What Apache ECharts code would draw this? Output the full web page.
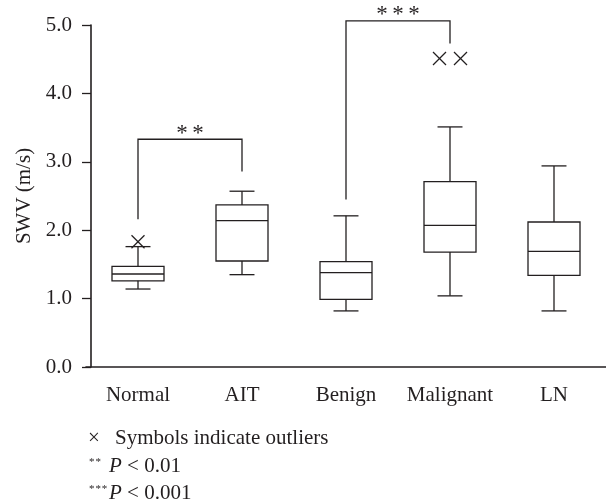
<!DOCTYPE html>
<html>
<head>
<meta charset="utf-8">
<script src="https://cdn.jsdelivr.net/npm/echarts@6/dist/echarts.min.js"></script>
<style>html,body{margin:0;padding:0;background:#fff;}#c{width:606px;height:502px;}</style>
</head>
<body>
<div id="c"></div>
<script>
const categories = ['Normal', 'AIT', 'Benign', 'Malignant', 'LN'];
const boxLow    = [1.14, 1.35, 0.82, 1.04, 0.82];
const boxQ1     = [1.26, 1.55, 0.99, 1.68, 1.34];
const boxMedian = [1.36, 2.14, 1.38, 2.07, 1.69];
const boxQ3     = [1.47, 2.37, 1.54, 2.71, 2.12];
const boxHigh   = [1.76, 2.57, 2.21, 3.51, 2.94];
const outlierCategory = [0, 3, 3];
const outlierValue    = [1.83, 4.51, 4.51];
const bracketFrom    = [0, 2];
const bracketTo      = [1, 3];
const bracketTop     = [3.33, 5.06];
const bracketFromEnd = [2.16, 2.45];
const bracketToEnd   = [2.86, 4.73];
const bracketLabel   = ['**', '***'];
const yMin = 0, yMax = 5, yInterval = 1;
const yTitle = 'SWV (m/s)';
const noteSymbol = '×';
const noteText = 'Symbols indicate outliers';
const noteStars = ['**', '***'];
const noteP = ['< 0.01', '< 0.001'];

const INK = '#231f20';
const FONT = 'Liberation Serif';

const boxData = categories.map((c, i) => [i, boxLow[i], boxQ1[i], boxMedian[i], boxQ3[i], boxHigh[i]]);
const outlierData = outlierCategory.map((c, k) => {
  const same = [];
  outlierCategory.forEach((c2, k2) => { if (c2 === c && outlierValue[k2] === outlierValue[k]) same.push(k2); });
  return [c, outlierValue[k], same.indexOf(k), same.length];
});
const bracketData = bracketFrom.map((f, i) => [f, bracketTo[i], bracketTop[i], bracketFromEnd[i], bracketToEnd[i], i]);

const chart = echarts.init(document.getElementById('c'), null, { renderer: 'canvas' });
const lineStyle = { stroke: INK, lineWidth: 1.3, fill: null };

function pNote(i, top) {
  return [
    { type: 'text', left: 89, top: top + 1,
      style: { text: noteStars[i].split('').join('\u200a'), fill: INK, font: '11px "' + FONT + '"' } },
    { type: 'text', left: 109, top: top,
      style: { text: '{i|P}{n| ' + noteP[i] + '}',
        rich: {
          i: { fontSize: 21, fontFamily: FONT, fontStyle: 'italic', fill: INK, lineHeight: 21 },
          n: { fontSize: 21, fontFamily: FONT, fill: INK, lineHeight: 21 }
        } } }
  ];
}

chart.setOption({
  animation: false,
  backgroundColor: '#fff',
  grid: { left: 86, right: 0, top: 25, bottom: 135, containLabel: false },
  xAxis: {
    type: 'category',
    data: categories,
    boundaryGap: true,
    axisLine: { lineStyle: { color: INK, width: 1.6 } },
    axisTick: { alignWithLabel: true, length: 10, lineStyle: { color: INK, width: 1.3 } },
    axisLabel: { interval: 0, color: INK, fontFamily: FONT, fontSize: 21, margin: 18 },
    splitLine: { show: false }
  },
  yAxis: {
    type: 'value',
    min: yMin, max: yMax, interval: yInterval,
    offset: -5,
    name: yTitle,
    nameLocation: 'middle',
    nameGap: 50,
    nameTextStyle: { color: INK, fontFamily: FONT, fontSize: 21 },
    axisLine: { show: true, lineStyle: { color: INK, width: 1.6 } },
    axisTick: { show: true, length: 9, lineStyle: { color: INK, width: 1.3 } },
    axisLabel: { color: INK, fontFamily: FONT, fontSize: 21, margin: 19, formatter: v => v.toFixed(1) },
    splitLine: { show: false }
  },
  series: [
    {
      type: 'custom',
      name: 'box',
      data: boxData,
      encode: { x: 0, y: [1, 2, 3, 4, 5] },
      renderItem: function (params, api) {
        const i = api.value(0);
        const band = api.size([1, 0])[0];
        const bw = band * 0.5, cw = band * 0.24;
        const pl = api.coord([i, api.value(1)]);
        const p1 = api.coord([i, api.value(2)]);
        const pm = api.coord([i, api.value(3)]);
        const p3 = api.coord([i, api.value(4)]);
        const ph = api.coord([i, api.value(5)]);
        const cx = pl[0];
        return {
          type: 'group',
          children: [
            { type: 'rect', shape: { x: cx - bw / 2, y: p3[1], width: bw, height: p1[1] - p3[1] }, style: lineStyle },
            { type: 'line', shape: { x1: cx - bw / 2, y1: pm[1], x2: cx + bw / 2, y2: pm[1] }, style: lineStyle },
            { type: 'line', shape: { x1: cx, y1: p3[1], x2: cx, y2: ph[1] }, style: lineStyle },
            { type: 'line', shape: { x1: cx - cw / 2, y1: ph[1], x2: cx + cw / 2, y2: ph[1] }, style: lineStyle },
            { type: 'line', shape: { x1: cx, y1: p1[1], x2: cx, y2: pl[1] }, style: lineStyle },
            { type: 'line', shape: { x1: cx - cw / 2, y1: pl[1], x2: cx + cw / 2, y2: pl[1] }, style: lineStyle }
          ]
        };
      }
    },
    {
      type: 'custom',
      name: 'outliers',
      data: outlierData,
      encode: { x: 0, y: 1 },
      clip: false,
      renderItem: function (params, api) {
        const p = api.coord([api.value(0), api.value(1)]);
        const j = api.value(2), n = api.value(3);
        const step = 21;
        const cx = p[0] + (j - (n - 1) / 2) * step;
        const h = 6.5;
        const st = { stroke: INK, lineWidth: 1.3, fill: null };
        return {
          type: 'group',
          children: [
            { type: 'line', shape: { x1: cx - h, y1: p[1] - h, x2: cx + h, y2: p[1] + h }, style: st },
            { type: 'line', shape: { x1: cx - h, y1: p[1] + h, x2: cx + h, y2: p[1] - h }, style: st }
          ]
        };
      }
    },
    {
      type: 'custom',
      name: 'brackets',
      data: bracketData,
      encode: { x: [0, 1], y: [2, 3, 4] },
      clip: false,
      renderItem: function (params, api) {
        const a = api.coord([api.value(0), api.value(3)]);
        const at = api.coord([api.value(0), api.value(2)]);
        const b = api.coord([api.value(1), api.value(4)]);
        const bt = api.coord([api.value(1), api.value(2)]);
        return {
          type: 'group',
          children: [
            { type: 'polyline', shape: { points: [a, at, bt, b] }, style: { stroke: INK, lineWidth: 1.3, fill: null } },
            { type: 'text', x: (a[0] + b[0]) / 2, y: at[1] + 6,
              style: { text: bracketLabel[api.value(5)].split('').join('\u2009'), fill: INK, font: '23px "' + FONT + '"', align: 'center', verticalAlign: 'bottom' } }
          ]
        };
      }
    }
  ],
  graphic: [
    { type: 'text', left: 88, top: 428, style: { text: noteSymbol, fill: INK, font: '21px "' + FONT + '"' } },
    { type: 'text', left: 115, top: 428, style: { text: noteText, fill: INK, font: '21px "' + FONT + '"' } }
  ].concat(pNote(0, 456), pNote(1, 483))
});
</script>
</body>
</html>
